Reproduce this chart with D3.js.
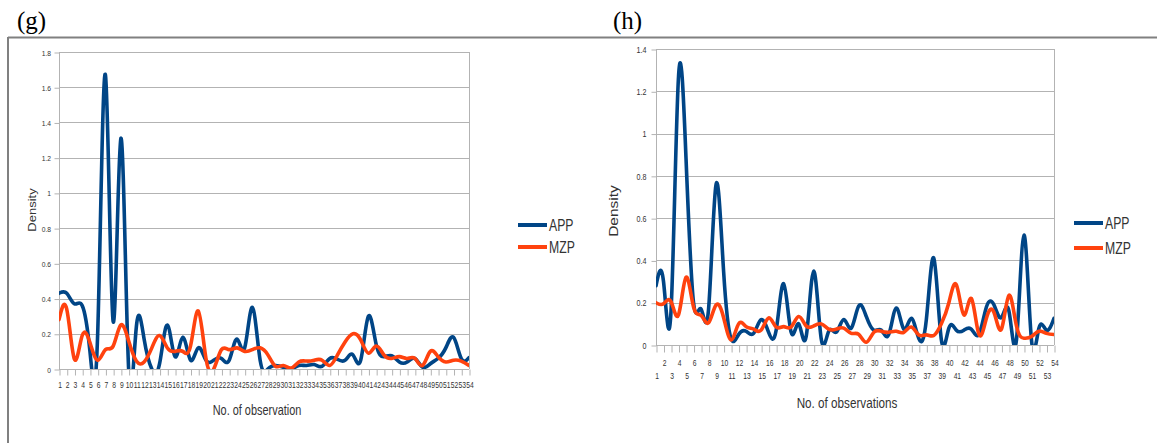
<!DOCTYPE html>
<html>
<head>
<meta charset="utf-8">
<script src="https://cdn.jsdelivr.net/npm/d3@7"></script>
<style>
  body { margin: 0; background: #fff; }
  svg { display: block; }
  text { font-family: "Liberation Sans", Arial, sans-serif; }
</style>
</head>
<body>
<svg id="chart" width="1157" height="443"></svg>
<script>
// Observation numbers (categories on the x axis)
const observations = [1,2,3,4,5,6,7,8,9,10,11,12,13,14,15,16,17,18,19,20,21,22,23,24,25,26,27,
  28,29,30,31,32,33,34,35,36,37,38,39,40,41,42,43,44,45,46,47,48,49,50,51,52,53,54];

// Panel (g): density per observation
const appG = [0.43,0.43,0.37,0.36,0.10,0.20,1.67,0.27,1.31,0.00,0.24,0.17,0.00,0.03,0.25,0.07,0.18,0.05,
  0.12,0.05,0.05,0.06,0.05,0.17,0.12,0.35,0.05,0.00,0.02,0.01,0.00,0.02,0.02,0.025,0.015,0.06,0.055,0.05,
  0.08,0.05,0.30,0.14,0.07,0.075,0.04,0.04,0.06,0.01,0.03,0.06,0.12,0.18,0.06,0.065];
const mzpG = [0.28,0.34,0.055,0.19,0.15,0.05,0.11,0.13,0.25,0.16,0.045,0.04,0.12,0.19,0.12,0.10,0.10,0.13,
  0.33,0.06,0.00,0.11,0.11,0.12,0.10,0.11,0.12,0.08,0.015,0.02,0.005,0.04,0.045,0.05,0.05,0.02,0.08,0.155,
  0.20,0.165,0.09,0.13,0.08,0.06,0.07,0.06,0.06,0.02,0.10,0.07,0.04,0.05,0.045,0.02];

// Panel (h): density per observation
const appH = [0.28,0.30,0.16,1.27,0.88,0.20,0.17,0.17,0.76,0.35,0.03,0.05,0.065,0.055,0.12,0.06,0.07,0.29,
  0.06,0.10,0.04,0.35,0.03,0.065,0.06,0.12,0.08,0.185,0.135,0.07,0.07,0.05,0.175,0.075,0.126,0.03,0.12,0.41,
  0.025,0.08,0.07,0.07,0.075,0.05,0.18,0.19,0.13,0.16,0.024,0.52,0.024,0.08,0.07,0.126];
const mzpH = [0.20,0.195,0.205,0.143,0.32,0.18,0.14,0.105,0.19,0.13,0.024,0.10,0.087,0.075,0.07,0.128,0.085,
  0.087,0.085,0.135,0.09,0.09,0.10,0.075,0.075,0.08,0.055,0.05,0.013,0.06,0.065,0.06,0.065,0.06,0.085,0.047,
  0.048,0.045,0.10,0.20,0.285,0.142,0.22,0.05,0.127,0.155,0.075,0.235,0.09,0.032,0.04,0.065,0.055,0.05];

// Y axis tick values and their labels
const yTicksG = [0,0.2,0.4,0.6,0.8,1,1.2,1.4,1.6,1.8];
const yLabelsG = ["0","0.2","0.4","0.6","0.8","1","1.2","1.4","1.6","1.8"];
const yTicksH = [0,0.2,0.4,0.6,0.8,1,1.2,1.4];
const yLabelsH = ["0","0.2","0.4","0.6","0.8","1","1.2","1.4"];

const seriesNames = ["APP","MZP"];
const seriesColors = ["#004586","#ff420e"];

const svg = d3.select("#chart");
const gridColor = "#b3b3b3";
const SQ = 0.78;   // horizontal narrowing of chart lettering

// Page frame
svg.append("line").attr("x1", 8).attr("x2", 1157).attr("y1", 37.5).attr("y2", 37.5)
  .attr("stroke", "#808080").attr("stroke-width", 2);
svg.append("line").attr("x1", 8).attr("x2", 8).attr("y1", 37).attr("y2", 443)
  .attr("stroke", "#808080").attr("stroke-width", 2);

// Panel letters
svg.append("text").attr("x", 17).attr("y", 29).text("(g)")
  .style("font-family", "'Liberation Serif', 'Times New Roman', serif").style("font-size", "25px").attr("fill", "#000");
svg.append("text").attr("x", 613).attr("y", 29).text("(h)")
  .style("font-family", "'Liberation Serif', 'Times New Roman', serif").style("font-size", "25px").attr("fill", "#000");

function drawPanel(cfg) {
  const x = d3.scalePoint().domain(cfg.categories).range([cfg.x0, cfg.x1]).padding(0);
  const y = d3.scaleLinear().domain([0, cfg.yMax]).range([cfg.y0, cfg.yTop]);
  const g = svg.append("g");

  // horizontal gridlines
  g.append("g").selectAll("line").data(cfg.yTicks).join("line")
    .attr("x1", cfg.x0).attr("x2", cfg.x1)
    .attr("y1", d => Math.round(y(d)) + 0.5).attr("y2", d => Math.round(y(d)) + 0.5)
    .attr("stroke", gridColor).attr("stroke-width", 1);

  // wall border on the right, axis line on the left
  g.append("line").attr("x1", cfg.x1 + 0.5).attr("x2", cfg.x1 + 0.5)
    .attr("y1", cfg.yTop).attr("y2", cfg.y0).attr("stroke", gridColor);
  g.append("line").attr("x1", cfg.x0 + 0.5).attr("x2", cfg.x0 + 0.5)
    .attr("y1", cfg.yTop).attr("y2", cfg.y0).attr("stroke", gridColor);

  // y axis
  const yAxis = d3.axisLeft(y).tickValues(cfg.yTicks).tickSize(5).tickPadding(4)
    .tickFormat((d, i) => cfg.yLabels[i]);
  const ya = g.append("g").attr("transform", `translate(${cfg.x0 + 0.5},0.5)`).call(yAxis);
  ya.select(".domain").remove();
  ya.selectAll(".tick line").attr("stroke", gridColor);
  ya.selectAll(".tick text").attr("fill", "#333").style("font-size", cfg.yFont + "px")
    .attr("x", -cfg.yLabelGap).attr("transform", `scale(${SQ + 0.06},1)`);

  // x axis
  const xAxis = d3.axisBottom(x).tickValues(cfg.categories).tickSize(cfg.xTickLen).tickPadding(0);
  const xa = g.append("g").attr("transform", `translate(0.5,${Math.round(cfg.y0) + 0.5})`).call(xAxis);
  xa.select(".domain").remove();
  xa.selectAll(".tick line").attr("stroke", gridColor);
  xa.selectAll(".tick text").attr("fill", "#333").style("font-size", cfg.xFont + "px")
    .attr("dy", null).attr("dominant-baseline", "central")
    .attr("y", (d, i) => cfg.twoRows ? (i % 2 === 1 ? cfg.xRow1 : cfg.xRow2) : cfg.xRow1)
    .attr("transform", `scale(${SQ - 0.03},1)`);

  // series lines, clipped to the plot area
  const clipId = "clip-" + cfg.id;
  svg.append("clipPath").attr("id", clipId).append("rect")
    .attr("x", cfg.x0).attr("y", cfg.yTop - 10)
    .attr("width", cfg.x1 - cfg.x0).attr("height", cfg.y0 - cfg.yTop + 10);
  const line = d3.line().x((d, i) => x(cfg.categories[i])).y(d => y(d)).curve(d3.curveNatural);
  const lines = g.append("g").attr("clip-path", `url(#${clipId})`);
  cfg.series.forEach((s, k) => {
    lines.append("path").attr("d", line(s)).attr("fill", "none")
      .attr("stroke", seriesColors[k]).attr("stroke-width", 3.6)
      .attr("stroke-linejoin", "round").attr("stroke-linecap", "round");
  });

  // axis titles
  g.append("text").attr("transform", `translate(${cfg.xTitleX},${cfg.xTitleY}) scale(${SQ},1)`)
    .attr("text-anchor", "middle").attr("dominant-baseline", "central")
    .style("font-size", cfg.titleFont + "px").attr("fill", "#333").text(cfg.xTitle);
  g.append("text").attr("transform", `translate(${cfg.yTitleX},${cfg.yTitleY}) rotate(-90) scale(1,${SQ})`)
    .attr("text-anchor", "middle").attr("dominant-baseline", "central")
    .style("font-size", cfg.yTitleFont + "px").attr("fill", "#333").text("Density");

  // legend
  seriesNames.forEach((name, k) => {
    const ly = cfg.legendY[k];
    g.append("line").attr("x1", cfg.legendX).attr("x2", cfg.legendX + 29)
      .attr("y1", ly).attr("y2", ly).attr("stroke", seriesColors[k]).attr("stroke-width", 4);
    g.append("text").attr("transform", `translate(${cfg.legendX + 31},${ly}) scale(${SQ - 0.06},1)`)
      .attr("dominant-baseline", "central").style("font-size", cfg.legendFont + "px")
      .attr("fill", "#333").text(name);
  });
}

drawPanel({
  id: "g", categories: observations, series: [appG, mzpG],
  x0: 59, x1: 469, y0: 369, yTop: 52, yMax: 1.8,
  yTicks: yTicksG, yLabels: yLabelsG, yFont: 8, yLabelGap: 10,
  xTickLen: 6, xFont: 9, twoRows: false, xRow1: 16,
  xTitle: "No. of observation", xTitleX: 257, xTitleY: 411, titleFont: 14,
  yTitleX: 32, yTitleY: 210, yTitleFont: 13,
  legendX: 518, legendY: [225, 247], legendFont: 17
});

drawPanel({
  id: "h", categories: observations, series: [appH, mzpH],
  x0: 656, x1: 1054, y0: 345, yTop: 49, yMax: 1.4,
  yTicks: yTicksH, yLabels: yLabelsH, yFont: 8.5, yLabelGap: 12,
  xTickLen: 7, xFont: 9, twoRows: true, xRow1: 18, xRow2: 31,
  xTitle: "No. of observations", xTitleX: 847, xTitleY: 403, titleFont: 15,
  yTitleX: 614, yTitleY: 211, yTitleFont: 15.5,
  legendX: 1074, legendY: [223, 248], legendFont: 17
});
</script>
</body>
</html>
